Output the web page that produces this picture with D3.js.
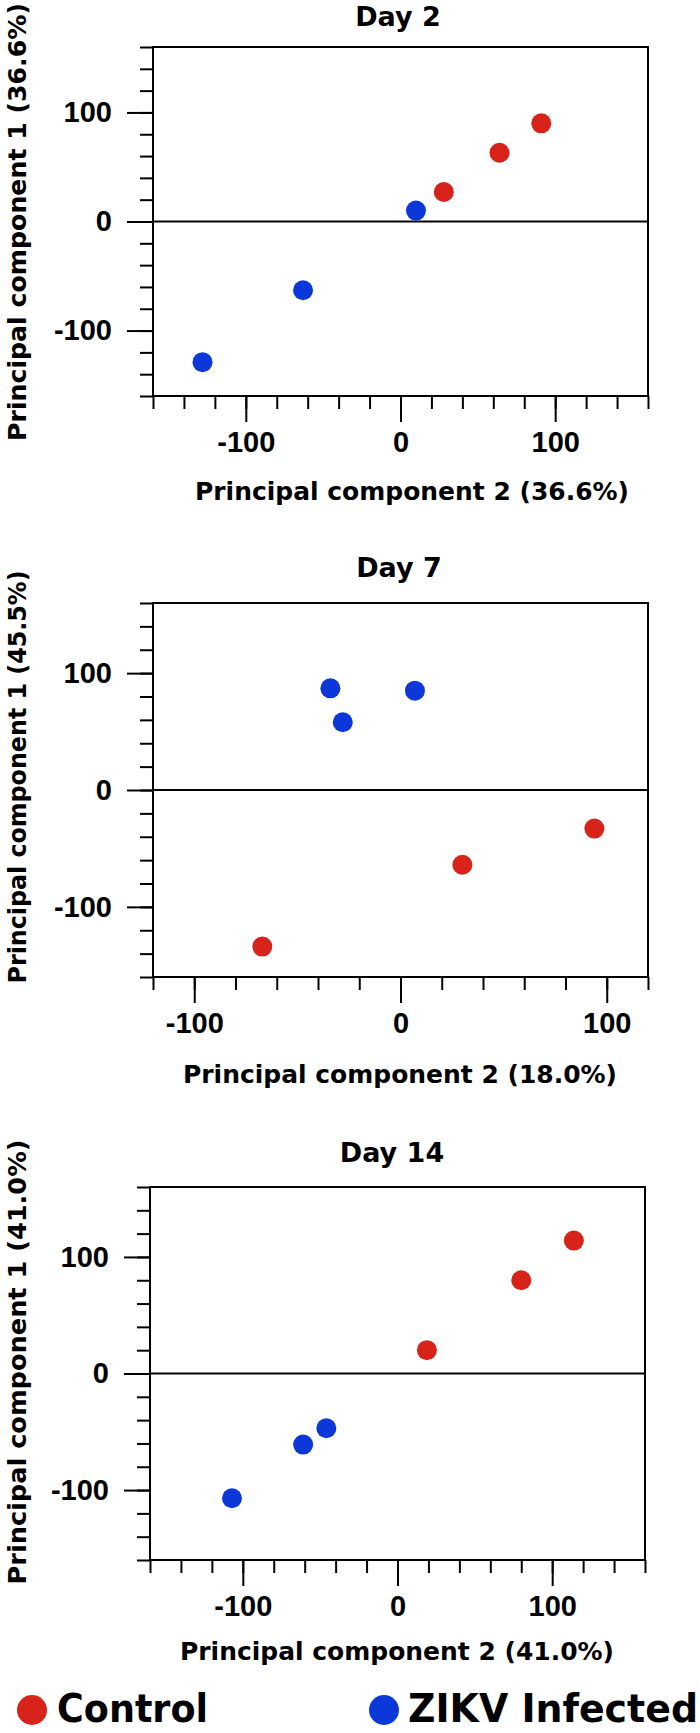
<!DOCTYPE html>
<html lang="en">
<head>
<meta charset="utf-8" />
<title>PCA - Day 2 / Day 7 / Day 14</title>
<style>
html, body {
	margin: 0;
	padding: 0;
	background: #fff;
}
svg {
	display: block;
}
.tick line {
	stroke: #000;
	stroke-width: 2;
}
.tick text {
	font-family: "Liberation Sans", Arial, sans-serif;
	font-weight: bold;
	font-size: 29px;
	fill: #000;
}
.title, .axis-title {
	font-family: "DejaVu Sans", Verdana, sans-serif;
	font-weight: bold;
	fill: #000;
}
.legend text {
	font-family: "DejaVu Sans Condensed", "DejaVu Sans", sans-serif;
	font-stretch: condensed;
	font-weight: bold;
	font-size: 39px;
	fill: #000;
}
</style>
</head>
<body>
<svg width="700" height="1733"></svg>

<script src="https://unpkg.com/d3@7/dist/d3.min.js"></script>
<script>

// panel titles and axis titles
var days = ["Day 2", "Day 7", "Day 14"];
var pc1Titles = ["Principal component 1 (36.6%)", "Principal component 1 (45.5%)", "Principal component 1 (41.0%)"];
var pc2Titles = ["Principal component 2 (36.6%)", "Principal component 2 (18.0%)", "Principal component 2 (41.0%)"];

// axis ranges and labelled ticks
var pc2Domains = [[-160, 160], [-120, 120], [-160, 160]];
var pc1Domain = [-160, 160];
var majorTicks = [-100, 0, 100];

// groups
var groups = ["Control", "ZIKV Infected"];

// scores per panel (PC2 = x, PC1 = y)
var controlPC2 = [[91, 64, 28], [94, 30, -67], [114, 80, 19]];
var controlPC1 = [[90, 63, 27], [-33, -64, -134], [114, 80, 20]];
var zikvPC2 = [[10, -63, -128], [-34, -28, 7], [-46, -61, -107]];
var zikvPC1 = [[10, -63, -129], [87, 58, 85], [-47, -61, -107]];

main();

function main() {

	var svg = d3.select("svg");
	var colors = ["#d8231a", "#0c37d9"];

	// plain hyphen for negatives, like the original figure
	var fmt = function(d) { return String(d); };

	// where each panel sits on the page
	var panels = [
		{left: 153, right: 648, top: 47, bottom: 396, titleX: 398, titleY: 26, xTitleX: 412, xTitleY: 500, yTitleY: 222, yLen: 438},
		{left: 153, right: 648, top: 603, bottom: 977, titleX: 399, titleY: 577, xTitleX: 400, xTitleY: 1083, yTitleY: 777, yLen: 413},
		{left: 150, right: 645, top: 1187, bottom: 1560, titleX: 392, titleY: 1162, xTitleX: 397, xTitleY: 1660, yTitleY: 1362, yLen: 445}
	];

	days.forEach(function(day, i) {
		var p = panels[i];
		var g = svg.append("g").attr("class", "panel");

		var x = d3.scaleLinear().domain(pc2Domains[i]).range([p.left, p.right]);
		var y = d3.scaleLinear().domain(pc1Domain).range([p.bottom, p.top]);

		var xMinor = d3.range(pc2Domains[i][0], pc2Domains[i][1] + 1, 20);
		var yMinor = d3.range(pc1Domain[0], pc1Domain[1] + 1, 20);

		//x axis: short ticks every 20, long ticks with labels
		g.append("g")
			.attr("transform", "translate(0," + p.bottom + ")")
			.call(d3.axisBottom(x).tickValues(xMinor).tickSize(13).tickFormat(""))
			.call(function(a) { a.select(".domain").remove(); });
		g.append("g")
			.attr("transform", "translate(0," + p.bottom + ")")
			.call(d3.axisBottom(x).tickValues(majorTicks).tickSize(26).tickPadding(9).tickFormat(fmt))
			.call(function(a) { a.select(".domain").remove(); });

		//y axis
		g.append("g")
			.attr("transform", "translate(" + p.left + ",0)")
			.call(d3.axisLeft(y).tickValues(yMinor).tickSize(13).tickFormat(""))
			.call(function(a) { a.select(".domain").remove(); });
		g.append("g")
			.attr("transform", "translate(" + p.left + ",0)")
			.call(d3.axisLeft(y).tickValues(majorTicks).tickSize(26).tickPadding(15).tickFormat(fmt))
			.call(function(a) { a.select(".domain").remove(); });

		//zero line
		g.append("line")
			.attr("x1", x.range()[0]).attr("x2", x.range()[1])
			.attr("y1", y(0)).attr("y2", y(0))
			.attr("stroke", "#000").attr("stroke-width", 2);

		//frame
		g.append("rect")
			.attr("x", x.range()[0]).attr("y", y.range()[1])
			.attr("width", x.range()[1] - x.range()[0])
			.attr("height", y.range()[0] - y.range()[1])
			.attr("fill", "none").attr("stroke", "#000").attr("stroke-width", 2);

		//points
		var series = [d3.zip(controlPC2[i], controlPC1[i]), d3.zip(zikvPC2[i], zikvPC1[i])];
		series.forEach(function(pts, k) {
			g.selectAll(".dot" + k).data(pts).enter().append("circle")
				.attr("class", "dot" + k)
				.attr("cx", function(d) { return x(d[0]); })
				.attr("cy", function(d) { return y(d[1]); })
				.attr("r", 10)
				.attr("fill", colors[k]);
		});

		//titles
		g.append("text").attr("class", "title")
			.attr("x", p.titleX).attr("y", p.titleY)
			.attr("text-anchor", "middle")
			.attr("font-size", 27)
			.text(day);

		g.append("text").attr("class", "axis-title")
			.attr("x", p.xTitleX).attr("y", p.xTitleY)
			.attr("text-anchor", "middle")
			.attr("font-size", 25)
			.attr("textLength", 434).attr("lengthAdjust", "spacingAndGlyphs")
			.text(pc2Titles[i]);

		g.append("text").attr("class", "axis-title")
			.attr("transform", "translate(26," + p.yTitleY + ") rotate(-90)")
			.attr("text-anchor", "middle")
			.attr("font-size", 25)
			.attr("textLength", p.yLen).attr("lengthAdjust", "spacingAndGlyphs")
			.text(pc1Titles[i]);
	});

	//legend
	var legendPos = [{cx: 32, tx: 57, len: 151}, {cx: 384, tx: 408, len: 290}];
	var legend = svg.append("g").attr("class", "legend");
	groups.forEach(function(name, k) {
		legend.append("circle")
			.attr("cx", legendPos[k].cx).attr("cy", 1710)
			.attr("r", 15)
			.attr("fill", colors[k]);
		legend.append("text")
			.attr("x", legendPos[k].tx).attr("y", 1722)
			.attr("textLength", legendPos[k].len).attr("lengthAdjust", "spacingAndGlyphs")
			.text(name);
	});
}

</script>
</body>
</html>
